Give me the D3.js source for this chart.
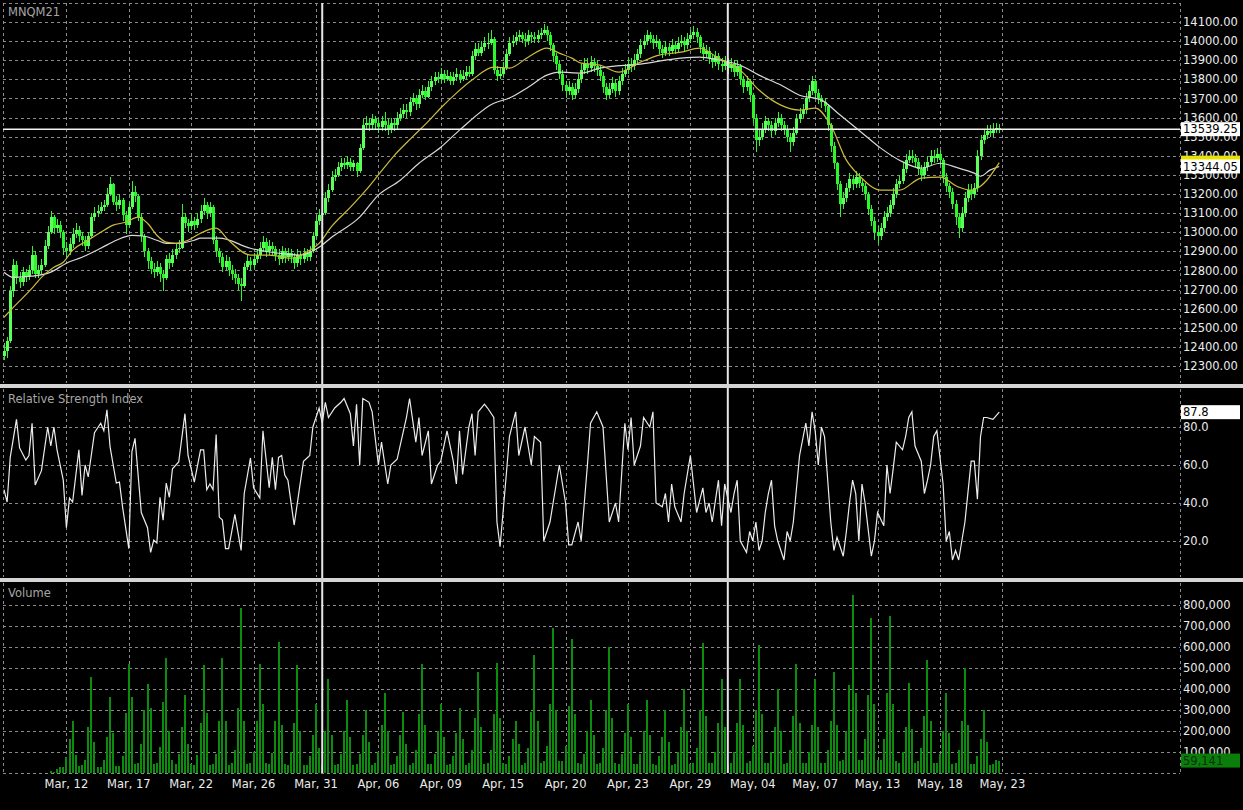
<!DOCTYPE html>
<html><head><meta charset="utf-8">
<script src="https://cdn.jsdelivr.net/npm/d3@7"></script>
<style>html,body{margin:0;padding:0;background:#000;overflow:hidden}</style>
</head><body>
<svg id="chart" width="1243" height="810"></svg>
<script>
// ---------------- DATA ----------------
const symbol = "MNQM21";
const firstOpen = 12350;
const closes = [
12380,12430,12690,12830,12760,12740,12790,12770,12800,12880,
12780,12800,12830,12930,13000,13080,13020,13040,13000,12920,
12900,12940,12990,13010,12980,12960,12930,12980,13080,13100,
13110,13130,13140,13200,13250,13160,13140,13170,13090,13040,
13130,13210,13190,13080,12980,12900,12850,12810,12790,12820,
12780,12760,12860,12840,12880,12910,12920,13080,13050,13030,
13060,13040,13070,13110,13140,13100,13130,12960,12900,12870,
12820,12850,12800,12780,12760,12730,12720,12820,12850,12830,
12860,12880,12920,12950,12900,12930,12910,12880,12860,12900,
12870,12890,12870,12840,12880,12860,12890,12870,12900,12980,
13060,13090,13100,13180,13220,13290,13300,13340,13360,13350,
13370,13340,13360,13320,13440,13560,13570,13560,13590,13570,
13550,13580,13560,13540,13570,13560,13600,13620,13640,13630,
13680,13700,13670,13720,13740,13710,13760,13790,13810,13800,
13830,13800,13820,13790,13810,13830,13800,13820,13840,13830,
13920,13960,13940,13970,13990,13990,14010,13850,13820,13830,
13860,13930,13990,14000,14020,14030,14010,14000,14030,14020,
14010,14030,14040,14060,14030,13980,13920,13880,13830,13770,
13740,13760,13720,13750,13800,13850,13880,13860,13890,13870,
13850,13820,13760,13720,13750,13780,13740,13790,13830,13850,
13880,13870,13900,13930,13980,14000,14030,14010,13990,14000,
13960,13940,13970,13950,13980,13960,13990,14000,13980,14010,
14030,14050,14020,13970,13930,13950,13910,13890,13920,13880,
13870,13890,13860,13880,13840,13870,13800,13760,13790,13720,
13600,13480,13500,13540,13580,13560,13530,13570,13600,13560,
13540,13500,13470,13520,13590,13620,13640,13700,13740,13790,
13730,13700,13680,13660,13560,13450,13360,13250,13150,13180,
13230,13280,13250,13290,13260,13240,13200,13120,13060,13000,
12980,13020,13080,13100,13140,13200,13250,13270,13330,13380,
13400,13390,13370,13330,13300,13340,13370,13400,13390,13410,
13380,13290,13240,13210,13150,13080,13020,13100,13180,13220,
13200,13230,13400,13480,13510,13530,13520,13540,13545,13539.25];
const highs = [
12420,12450,12720,12860,12850,12790,12820,12810,12830,12930,
12900,12830,12860,12960,13030,13110,13090,13070,13060,13010,
12950,12970,13020,13050,13030,13000,12980,13000,13100,13130,
13140,13160,13170,13230,13290,13260,13190,13200,13180,13110,
13160,13270,13240,13200,13100,12990,12920,12870,12840,12850,
12840,12800,12880,12890,12910,12940,12960,13150,13100,13070,
13090,13080,13100,13140,13180,13160,13160,13140,12980,12920,
12890,12880,12870,12830,12810,12780,12760,12840,12880,12870,
12890,12910,12950,12980,12970,12960,12950,12930,12910,12930,
12920,12920,12910,12890,12910,12900,12920,12910,12930,13000,
13090,13120,13130,13210,13250,13320,13330,13370,13390,13390,
13400,13390,13380,13370,13460,13590,13610,13600,13620,13610,
13600,13610,13630,13590,13600,13600,13630,13650,13670,13670,
13710,13730,13720,13750,13770,13760,13790,13820,13840,13840,
13860,13850,13850,13840,13840,13860,13850,13850,13870,13870,
13950,13990,13990,14000,14020,14040,14060,14020,13870,13860,
13890,13960,14020,14030,14050,14060,14050,14040,14060,14050,
14050,14060,14070,14090,14080,14050,13990,13940,13900,13850,
13790,13790,13780,13780,13830,13880,13910,13910,13920,13910,
13900,13870,13840,13780,13780,13810,13800,13820,13860,13880,
13910,13910,13930,13960,14010,14030,14060,14050,14030,14030,
14010,13980,14000,13990,14010,14000,14020,14030,14020,14040,
14060,14080,14070,14030,13990,13980,13970,13930,13950,13940,
13910,13920,13910,13910,13900,13900,13880,13820,13820,13800,
13730,13620,13540,13570,13610,13600,13580,13600,13630,13620,
13580,13560,13520,13550,13620,13650,13670,13730,13770,13820,
13800,13750,13720,13700,13670,13570,13470,13370,13270,13210,
13260,13310,13300,13320,13310,13280,13260,13210,13140,13080,
13030,13050,13110,13130,13170,13230,13280,13300,13360,13410,
13430,13430,13410,13390,13350,13370,13400,13430,13430,13440,
13430,13390,13310,13260,13230,13170,13100,13130,13210,13250,
13250,13260,13430,13510,13540,13560,13560,13570,13570,13565];
const lows = [
12330,12340,12420,12660,12730,12710,12720,12740,12750,12780,
12760,12760,12780,12820,12910,12990,12990,13000,12970,12880,
12870,12880,12920,12970,12950,12930,12900,12910,12970,13060,
13080,13100,13110,13130,13190,13140,13110,13120,13060,12990,
13020,13120,13160,13060,12950,12870,12810,12780,12760,12770,
12740,12690,12750,12810,12820,12860,12890,12910,13020,13000,
13010,13010,13020,13050,13090,13070,13080,12940,12870,12840,
12790,12800,12770,12750,12730,12700,12640,12710,12800,12800,
12810,12840,12860,12900,12870,12880,12880,12850,12830,12840,
12840,12850,12840,12810,12820,12830,12840,12850,12850,12890,
12970,13040,13070,13090,13160,13210,13270,13290,13320,13330,
13330,13320,13320,13290,13310,13430,13540,13530,13540,13540,
13520,13530,13530,13510,13520,13530,13540,13580,13600,13600,
13610,13660,13640,13650,13700,13690,13700,13740,13770,13780,
13780,13780,13790,13770,13770,13790,13780,13790,13800,13810,
13820,13900,13920,13920,13950,13960,13980,13830,13790,13800,
13810,13850,13920,13970,13980,14000,13990,13970,13980,13990,
13990,13990,14010,14030,14000,13950,13890,13850,13800,13740,
13700,13720,13690,13700,13730,13780,13830,13830,13840,13840,
13820,13790,13730,13690,13700,13730,13710,13720,13770,13810,
13830,13840,13850,13880,13910,13960,13980,13990,13960,13970,
13930,13910,13920,13920,13930,13930,13940,13970,13950,13960,
13990,14010,13990,13940,13900,13910,13880,13860,13870,13850,
13840,13850,13830,13840,13810,13820,13770,13730,13740,13680,
13570,13420,13450,13480,13520,13530,13500,13510,13550,13530,
13510,13470,13420,13450,13510,13570,13600,13620,13680,13720,
13700,13670,13650,13630,13530,13420,13330,13220,13080,13120,
13160,13210,13220,13230,13230,13210,13170,13090,13030,12960,
12940,12960,13000,13060,13080,13120,13180,13230,13250,13310,
13360,13360,13340,13300,13270,13280,13320,13350,13360,13370,
13350,13260,13210,13180,13120,13040,12970,13000,13080,13160,
13170,13180,13210,13380,13460,13490,13500,13500,13520,13520];
const volumes = [
0,0,0,0,0,0,0,0,0,0,
0,0,0,0,0,10000,5000,20000,30000,30000,
75000,160000,250000,85000,35000,40000,60000,220000,455000,150000,
30000,30000,60000,170000,360000,190000,35000,35000,80000,285000,
520000,360000,45000,50000,140000,300000,425000,310000,45000,50000,
125000,340000,550000,200000,60000,45000,90000,220000,370000,140000,
45000,40000,85000,240000,515000,285000,40000,45000,90000,250000,
550000,250000,40000,50000,110000,310000,785000,250000,45000,50000,
100000,250000,520000,330000,50000,45000,95000,250000,625000,230000,
45000,40000,100000,240000,515000,200000,40000,40000,80000,180000,
330000,120000,40000,200000,450000,180000,40000,45000,90000,200000,
350000,170000,40000,45000,90000,180000,300000,150000,40000,50000,
100000,230000,380000,200000,40000,45000,80000,180000,290000,140000,
40000,50000,110000,280000,520000,230000,45000,45000,90000,200000,
330000,170000,40000,45000,80000,190000,310000,160000,40000,50000,
110000,260000,480000,220000,45000,50000,110000,280000,525000,260000,
50000,45000,80000,160000,250000,140000,40000,50000,120000,290000,
560000,250000,50000,55000,130000,330000,690000,300000,55000,55000,
130000,320000,640000,280000,50000,45000,90000,200000,350000,180000,
45000,50000,120000,300000,600000,260000,50000,45000,90000,190000,
330000,170000,45000,45000,90000,200000,350000,180000,45000,40000,
80000,170000,300000,150000,40000,45000,100000,220000,400000,200000,
45000,50000,120000,300000,620000,270000,50000,50000,100000,240000,
450000,220000,45000,50000,100000,240000,450000,230000,50000,55000,
130000,300000,610000,280000,50000,50000,100000,220000,400000,200000,
45000,50000,110000,270000,520000,240000,50000,50000,100000,230000,
450000,220000,50000,50000,110000,250000,480000,230000,55000,60000,
200000,420000,850000,380000,60000,60000,160000,370000,740000,330000,
60000,60000,160000,380000,750000,330000,55000,50000,100000,220000,
430000,210000,50000,55000,120000,270000,540000,250000,50000,50000,
90000,200000,380000,190000,45000,50000,110000,250000,500000,230000,
45000,45000,80000,160000,300000,150000,40000,45000,60000,59141];
const rsiPoints = [[0,47],[1,40.5],[2,64],[4,84],[5,69],[7,62.6],[8,65],[9,82],[10,49.5],[12,57],[14,80],[15,70],[16,80],[17,68],[19,52],[20,27],[21,42.6],[22,40.5],[24,68],[25,44],[26,60],[27,53.7],[29,77],[31,82],[32,78],[33,89],[34,69.5],[36,50.5],[37,51],[38,38],[40,16],[41,67],[42,74],[44,35],[46,27],[47,14],[48,20.5],[49,19],[50,43],[51,31],[52,50.5],[53,43],[54,58],[56,61.6],[58,87],[59,65],[61,51],[63,68],[64,68],[65,47],[66,50],[67,47],[68,76],[69,32.6],[70,31],[71,16],[72,16],[74,34],[76,15],[77,45],[79,63.7],[80,48],[82,42.6],[83,78],[85,48],[86,64],[87,47],[88,64],[89,65],[90,54.7],[91,52],[93,28.4],[95,51],[96,62],[98,65],[99,80],[101,90],[102,82],[103,93],[104,85],[106,90],[108,93],[109,95],[111,87],[112,70],[113,92],[114,60],[115,95],[117,93],[118,88],[120,60],[121,72],[123,50],[124,60],[126,63],[129,85],[130,95],[132,72],[133,85],[134,65],[136,78],[137,50],[139,60],[140,62],[142,78],[144,62],[145,50],[146,78],[147,55],[149,80],[150,87],[151,65],[152,88],[154,92],[155,90],[157,85],[158,30],[159,17],[161,55],[162,75],[164,88],[165,65],[167,80],[169,60],[170,75],[172,72],[173,20],[175,30],[177,50],[178,60],[180,40],[181,18],[182,18],[184,30],[185,20],[186,40],[187,60],[188,82],[190,88],[192,80],[193,55],[194,30],[196,40],[197,30],[199,82],[200,68],[201,85],[202,60],[204,70],[205,85],[207,80],[208,88],[209,40],[211,38],[212,45],[213,30],[214,50],[215,38],[217,30],[218,45],[219,55],[220,65],[221,50],[222,35],[224,48],[225,35],[226,40],[227,30],[229,52],[230,28],[231,50],[233,35],[234,45],[235,52],[236,20],[238,14],[239,25],[240,20],[241,30],[242,15],[243,20],[244,35],[245,45],[246,52],[247,28],[248,20],[250,10],[251,25],[252,20],[253,30],[255,65],[257,82],[258,70],[259,88],[260,78],[261,60],[262,80],[263,75],[265,30],[266,15],[267,22],[269,12],[270,25],[271,40],[272,52],[273,45],[274,20],[275,50],[276,40],[278,12],[279,20],[280,35],[282,28],[283,60],[284,45],[285,58],[286,72],[288,68],[289,75],[290,85],[291,88],[292,70],[294,62],[295,45],[296,52],[297,60],[298,75],[299,78],[301,50],[302,20],[303,25],[304,10],[305,15],[306,10],[308,30],[310,62],[311,62],[312,42],[313,75],[314,85],[315,85],[317,84],[319,87.8]];
const maFast = [[0,12555],[3,12607],[9,12707],[12,12764],[16,12817],[19,12843],[22,12906],[27,12958],[31,13000],[35,13037],[39,13052],[43,13079],[46,13047],[49,12984],[52,12948],[55,12942],[59,12958],[63,12995],[68,13021],[72,12958],[79,12880],[85,12880],[92,12864],[98,12906],[101,12942],[105,13030],[111,13130],[116,13220],[120,13300],[125,13400],[131,13500],[136,13580],[140,13650],[145,13728],[150,13796],[157,13864],[162,13859],[168,13916],[174,13963],[178,13937],[182,13911],[185,13885],[191,13874],[197,13838],[204,13890],[210,13927],[217,13942],[223,13963],[229,13911],[236,13848],[242,13744],[249,13665],[255,13639],[260,13649],[265,13560],[270,13377],[274,13298],[281,13220],[287,13220],[294,13283],[300,13288],[306,13236],[310,13220],[312,13230],[315,13272],[319,13364]];
const maSlow = [[0,12791],[3,12764],[9,12770],[15,12791],[20,12838],[25,12869],[31,12916],[36,12958],[41,12984],[45,12979],[49,12958],[52,12942],[56,12942],[61,12958],[63,12969],[69,12969],[79,12916],[88,12890],[95,12880],[98,12895],[101,12921],[105,12974],[114,13079],[120,13194],[127,13272],[133,13361],[140,13445],[146,13534],[157,13675],[162,13702],[168,13759],[174,13822],[178,13838],[185,13833],[191,13859],[204,13880],[217,13911],[223,13916],[229,13901],[236,13874],[242,13822],[249,13770],[255,13717],[262,13691],[268,13613],[274,13534],[281,13440],[287,13377],[294,13335],[300,13361],[306,13335],[311,13309],[313,13293],[316,13325],[319,13344.05]];
const tickBars = [20,40,60,80,100,120,140,160,180,200,220,240,260,280,300,320];
const tickLabels = ["Mar, 12","Mar, 17","Mar, 22","Mar, 26","Mar, 31","Apr, 06","Apr, 09","Apr, 15","Apr, 20","Apr, 23","Apr, 29","May, 04","May, 07","May, 13","May, 18","May, 23"];
const monthStartBars = [102, 232];
const priceTicks = [12300,12400,12500,12600,12700,12800,12900,13000,13100,13200,13300,13400,13500,13600,13700,13800,13900,14000,14100];
const rsiTicks = [20,40,60,80];
const volumeTicks = [100000,200000,300000,400000,500000,600000,700000,800000];
const lastRsi = 87.8;

// ---------------- CHART ----------------
const W = 1243, H = 810;
const L = 3, R = 1180;
const panels = {price:[3,383], rsi:[389,577], vol:[583,773]};
const svg = d3.select('#chart');
svg.append('rect').attr('width',W).attr('height',H).attr('fill','#000');

const x = d3.scaleLinear().domain([0,377]).range([4,1180.2]);
const yP = d3.scaleLinear().domain([12300,14100]).range([366,22]);
const yR = d3.scaleLinear().domain([20,80]).range([541,427]);
const yV = d3.scaleLinear().domain([0,800000]).range([773,605]);

const FONT = "'DejaVu Sans', Verdana, sans-serif";
const FS = 11.5;
const gridColor = '#8a8a8a';
const dash = '3,3';
const px = v => Math.round(v) + 0.5;

const grid = svg.append('g').attr('fill','none').attr('stroke',gridColor).attr('stroke-dasharray',dash).attr('stroke-width',1).attr('shape-rendering','crispEdges');
function hgrid(vals, scale){
  grid.selectAll(null).data(vals).join('line')
    .attr('x1',L).attr('x2',R).attr('y1',d=>px(scale(d))).attr('y2',d=>px(scale(d)));
}
hgrid(priceTicks, yP); hgrid(rsiTicks, yR); hgrid(volumeTicks, yV);
Object.values(panels).forEach(([t,b])=>{
  grid.selectAll(null).data(tickBars).join('line')
    .attr('x1',d=>px(x(d))).attr('x2',d=>px(x(d))).attr('y1',t).attr('y2',b);
  grid.append('line').attr('x1',px(L)).attr('x2',px(L)).attr('y1',t).attr('y2',b);
  grid.append('line').attr('x1',px(R)).attr('x2',px(R)).attr('y1',t).attr('y2',b);
});
grid.append('line').attr('x1',L).attr('x2',R).attr('y1',3.5).attr('y2',3.5);
grid.append('line').attr('x1',L).attr('x2',R).attr('y1',px(yV(0))).attr('y2',px(yV(0)));

// candles
const opens = [firstOpen].concat(closes.slice(0,-1));
const bars = closes.map((c,i)=>({i, o:opens[i], h:highs[i], l:lows[i], c, v:volumes[i]}));
const candleColor = '#2cf52c';
const cg = svg.append('g').attr('shape-rendering','crispEdges');
cg.selectAll('line.w').data(bars).join('line')
  .attr('x1',d=>px(x(d.i))).attr('x2',d=>px(x(d.i)))
  .attr('y1',d=>yP(d.h)).attr('y2',d=>yP(d.l))
  .attr('stroke',candleColor).attr('stroke-width',1);
cg.selectAll('rect.b').data(bars).join('rect')
  .attr('x',d=>Math.round(x(d.i))-1).attr('width',3)
  .attr('y',d=>yP(Math.max(d.o,d.c)))
  .attr('height',d=>Math.max(1, yP(Math.min(d.o,d.c))-yP(Math.max(d.o,d.c))))
  .attr('fill',d=>d.c>=d.o?'#5cff5c':candleColor);

// moving averages
const line = d3.line().x(d=>x(d[0])).y(d=>yP(d[1])).curve(d3.curveMonotoneX);
svg.append('path').datum(maSlow).attr('d',line).attr('fill','none').attr('stroke','#d8d8d8').attr('stroke-width',1.2);
svg.append('path').datum(maFast).attr('d',line).attr('fill','none').attr('stroke','#cdbb3c').attr('stroke-width',1.2);

// RSI
const rsiLine = d3.line().x(d=>x(d[0])).y(d=>yR(d[1]));
svg.append('path').datum(rsiPoints).attr('d',rsiLine).attr('fill','none').attr('stroke','#ececec').attr('stroke-width',1.2);

// volume
svg.append('g').attr('shape-rendering','crispEdges').selectAll('rect').data(bars.filter(d=>d.v>0)).join('rect')
  .attr('x',d=>Math.round(x(d.i))-1).attr('width',2)
  .attr('y',d=>yV(d.v)).attr('height',d=>yV(0)-yV(d.v))
  .attr('fill','#0c8c0c');

// month separators
svg.append('g').selectAll('line').data(monthStartBars).join('line')
  .attr('x1',d=>x(d)).attr('x2',d=>x(d)).attr('y1',3).attr('y2',773)
  .attr('stroke','#e6e6e6').attr('stroke-width',2);

// last price line
const last = bars[bars.length-1];
svg.append('line').attr('x1',L).attr('x2',R).attr('y1',yP(last.c)).attr('y2',yP(last.c))
  .attr('stroke','#f2f2f2').attr('stroke-width',1.5);

// panel separators
[384, 578].forEach(y=>{
  svg.append('rect').attr('x',0).attr('width',W).attr('y',y).attr('height',4).attr('fill','#d4d4d4');
});

// axis labels
const lab = svg.append('g').attr('font-family',FONT).attr('font-size',FS).attr('fill','#ececec');
lab.selectAll(null).data(priceTicks).join('text').attr('x',1183).attr('y',d=>yP(d)).attr('dy','0.36em').text(d3.format('.2f'));
lab.selectAll(null).data(rsiTicks).join('text').attr('x',1183).attr('y',d=>yR(d)).attr('dy','0.36em').text(d3.format('.1f'));
lab.selectAll(null).data(volumeTicks).join('text').attr('x',1183).attr('y',d=>yV(d)).attr('dy','0.36em').text(d3.format(','));
lab.selectAll(null).data(tickBars).join('text').attr('x',(d)=>x(d)).attr('y',788).attr('text-anchor','middle').text((d,i)=>tickLabels[i]);

// value tags
function tag(y, txt, bg, fg){
  svg.append('rect').attr('x',1181).attr('y',y-7).attr('width',59).attr('height',14).attr('fill',bg);
  if(txt) svg.append('text').attr('x',1183).attr('y',y).attr('dy','0.36em').attr('font-family',FONT).attr('font-size',FS).attr('fill',fg).text(txt);
}
const lastFast = maFast[maFast.length-1][1], lastSlow = maSlow[maSlow.length-1][1];
tag(yP(lastFast), '', '#e8e000', '#000');
tag(yP(lastSlow), d3.format('.2f')(lastSlow), '#ffffff', '#000');
tag(yP(last.c), d3.format('.2f')(last.c), '#ffffff', '#000');
tag(yR(lastRsi), d3.format('.1f')(lastRsi), '#ffffff', '#000');
tag(Math.min(yV(last.v), 766), d3.format(',')(last.v), '#0b7d0b', '#063306');

// panel titles
const tt = svg.append('g').attr('font-family',FONT).attr('font-size',FS).attr('fill','#a6a6a6');
tt.append('text').attr('x',8).attr('y',16).text(symbol);
tt.append('text').attr('x',8).attr('y',403).text('Relative Strength Index');
tt.append('text').attr('x',8).attr('y',597).text('Volume');
</script>
</body></html>
